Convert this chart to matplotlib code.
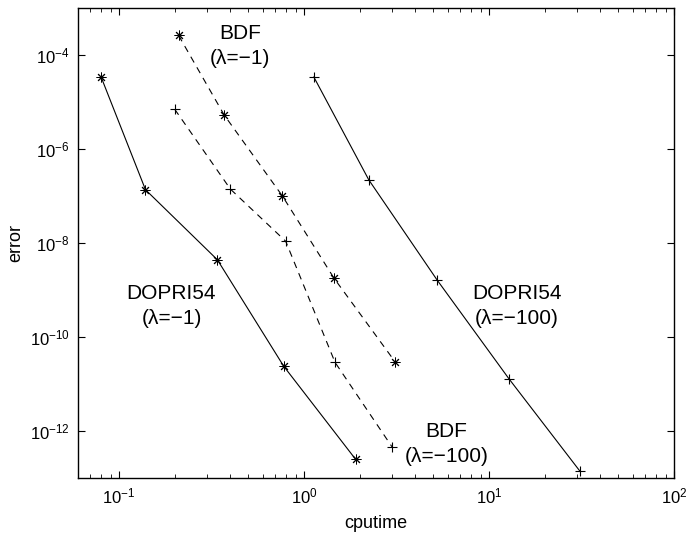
import numpy as np
import matplotlib
matplotlib.use("Agg")
import matplotlib.pyplot as plt
from matplotlib.ticker import LogLocator, NullLocator, FixedLocator

plt.rcParams['font.family'] = ['Liberation Sans', 'DejaVu Sans']
plt.rcParams['mathtext.fontset'] = 'custom'
plt.rcParams['mathtext.rm'] = 'Liberation Sans'

# DOPRI54, lambda = -1 (solid, asterisk)
dop1_t = [0.080, 0.139, 0.340, 0.776, 1.90]
dop1_e = [3.4e-5, 1.36e-7, 4.4e-9, 2.4e-11, 2.5e-13]

# BDF, lambda = -1 (dashed, asterisk)
bdf1_t = [0.210, 0.370, 0.764, 1.45, 3.12]
bdf1_e = [2.6e-4, 5.3e-6, 1.0e-7, 1.8e-9, 2.9e-11]

# BDF, lambda = -100 (dashed, plus)
bdf100_t = [0.200, 0.40, 0.796, 1.47, 2.99]
bdf100_e = [7.0e-6, 1.4e-7, 1.09e-8, 2.9e-11, 4.6e-13]

# DOPRI54, lambda = -100 (solid, plus)
dop100_t = [1.13, 2.24, 5.23, 12.8, 31.0]
dop100_e = [3.4e-5, 2.2e-7, 1.65e-9, 1.3e-11, 1.4e-13]

fig = plt.figure(figsize=(6.88, 5.34), dpi=100)
ax = fig.add_axes([78/688, 1 - 478/534, (674-78)/688, (478-8)/534])

lw = 0.8
ast = (8, 2, 0)
ax.loglog(dop1_t, dop1_e, 'k-', marker=ast, ms=7, lw=lw, mew=0.7)
ax.loglog(bdf1_t, bdf1_e, 'k--', marker=ast, ms=7, lw=lw, mew=0.7, dashes=(6, 5))
ax.loglog(bdf100_t, bdf100_e, 'k--', marker='+', ms=7, lw=lw, mew=0.8, dashes=(6, 5))
ax.loglog(dop100_t, dop100_e, 'k-', marker='+', ms=7, lw=lw, mew=0.8)

ax.set_xlim(0.06, 100)
ax.set_ylim(1e-13, 1e-3)
ax.yaxis.set_major_locator(FixedLocator([1e-12, 1e-10, 1e-8, 1e-6, 1e-4]))
ax.yaxis.set_minor_locator(NullLocator())
ax.xaxis.set_major_locator(LogLocator(base=10))
ax.xaxis.set_minor_locator(LogLocator(base=10, subs=np.arange(2, 10)))

ax.tick_params(which='both', direction='in', top=True, right=True, labelsize=12)
ax.tick_params(which='major', length=5, width=0.8, pad=6)
ax.tick_params(which='minor', length=3, width=0.6)
for s in ax.spines.values():
    s.set_linewidth(1.0)

ax.set_xlabel('cputime', fontsize=13, labelpad=6)
ax.set_ylabel('error', fontsize=13)

fs = 15
ls = 1.4
ax.text(0.449, 1.55e-4, 'BDF\n(λ=−1)', fontsize=fs, ha='center', va='center', linespacing=ls)
ax.text(0.192, 4.5e-10, 'DOPRI54\n(λ=−1)', fontsize=fs, ha='center', va='center', linespacing=ls)
ax.text(14.1, 4.6e-10, 'DOPRI54\n(λ=−100)', fontsize=fs, ha='center', va='center', linespacing=ls)
ax.text(5.89, 5.2e-13, 'BDF\n(λ=−100)', fontsize=fs, ha='center', va='center', linespacing=ls)

fig.savefig('out.png', dpi=100)
